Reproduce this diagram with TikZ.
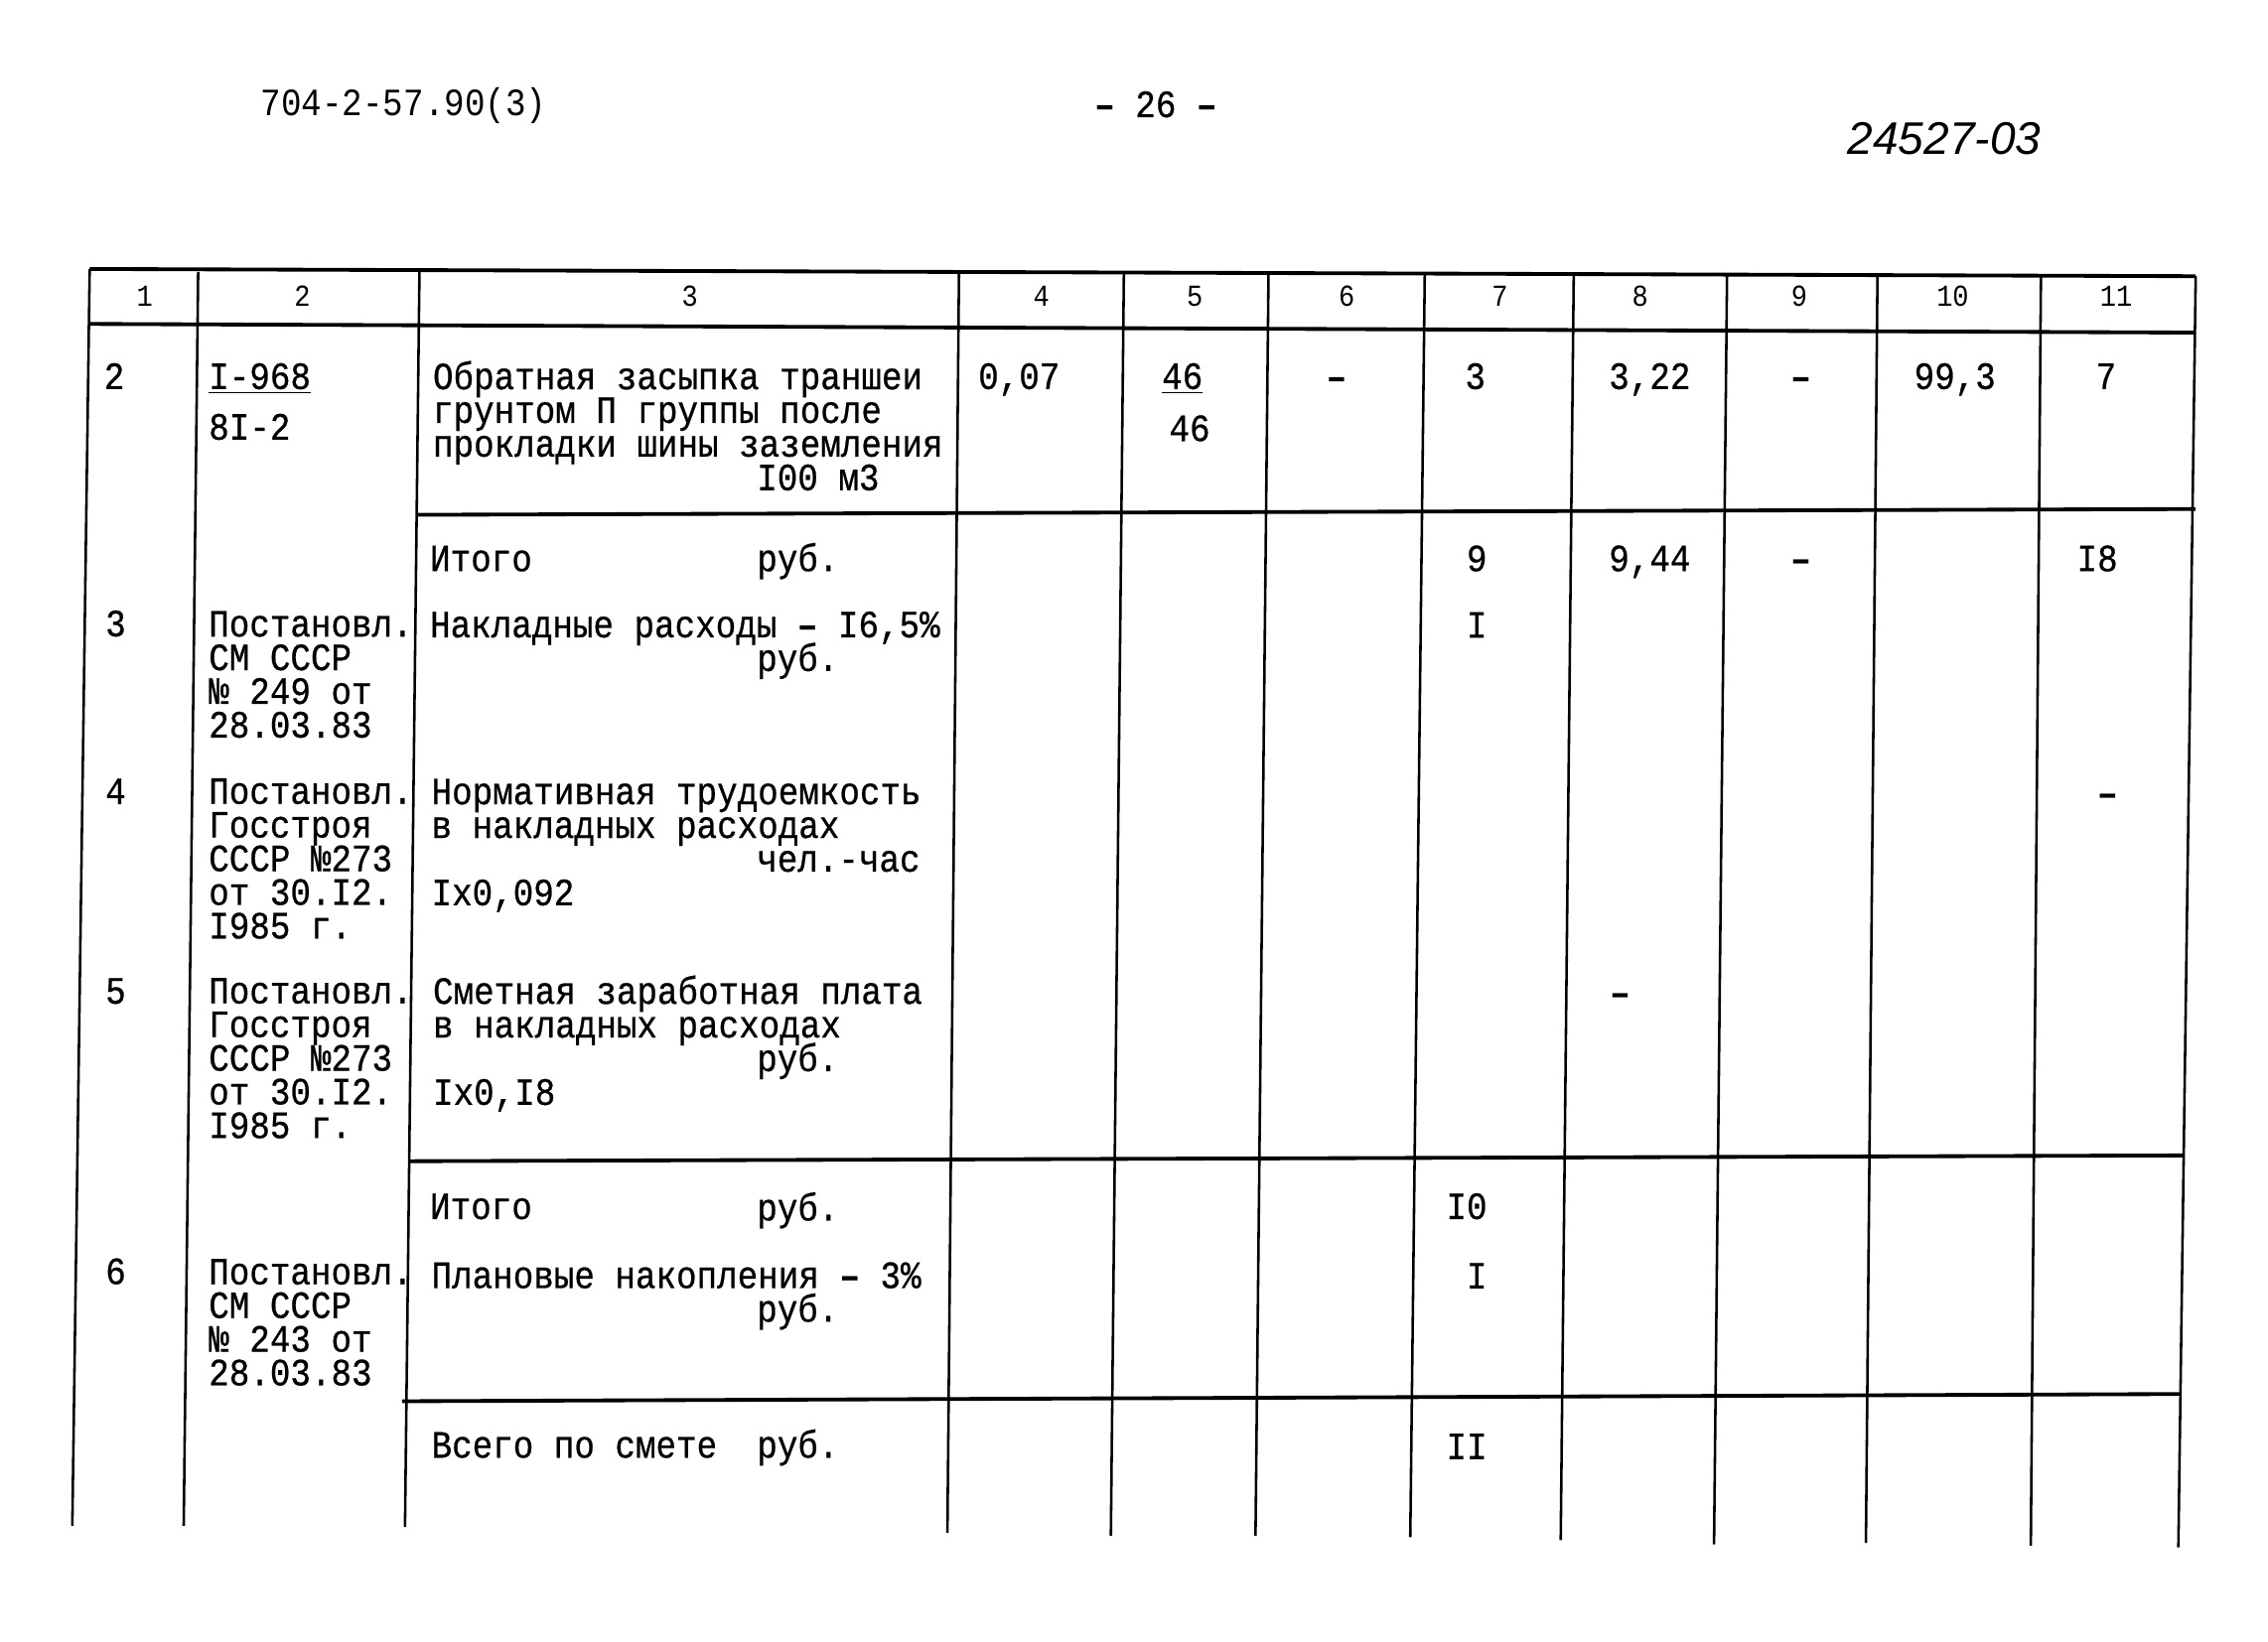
\documentclass[tikz,border=0pt]{standalone}
\usepackage{fontspec}
\newfontfamily\tw[FakeStretch=0.88,FakeBold=0.6]{Liberation Mono}
\newfontfamily\twl[FakeStretch=0.88]{Liberation Mono}
\newfontfamily\hw{Liberation Sans}
\newcommand\tightlines{\lineskiplimit=-30pt\relax\lineskip=0pt\relax}
\begin{document}
\begin{tikzpicture}[x=0.02cm,y=-0.02cm,
  t/.style={anchor=base west,inner sep=0pt,font=\tw\fontsize{15.2}{13.25}\selectfont\tightlines},
  blk/.style={t,align=left},
  tc/.style={t,anchor=base},
  dsh/.style={t,anchor=base,font=\tw\bfseries\fontsize{15.2}{15.2}\selectfont},
  hd/.style={anchor=base,inner sep=0pt,font=\twl\fontsize{12}{12}\selectfont},
  hln/.style={line width=1.5pt},
  vln/.style={line width=1.0pt}]
\useasboundingbox[fill=white] (0,0) rectangle (1568,1135);

% vertical lines
\foreach \i/\xa/\ya/\xb/\yb in {0/62/186/50/1055,1/137/188/127/1055,2/290/188/280/1056,
  3/663/189/655/1060,4/777/189/768/1062,5/877/189/868/1062,6/985/190/975/1063,
  7/1088/190/1079/1065,8/1194/190/1185/1068,9/1298/190/1290/1067,
  10/1411/191/1404/1069,11/1518/191/1506/1070}{
  \coordinate (vt\i) at (\xa,\ya);
  \coordinate (vb\i) at (\xb,\yb);
  \draw[vln] (vt\i) -- (vb\i);
}
% horizontal lines
\coordinate (h0a) at (62,186);  \coordinate (h0b) at (1518,191);
\coordinate (h1a) at (62,224);  \coordinate (h1b) at (1518,230);
\coordinate (h2a) at (289,356); \coordinate (h2b) at (1518,352);
\coordinate (h3a) at (283,803); \coordinate (h3b) at (1510,799);
\coordinate (h4a) at (278,969); \coordinate (h4b) at (1507,964);
\draw[hln] (h0a) -- (h0b);
\draw[hln] (h1a) -- (h1b);
\draw[hln] (h2a) -- (h2b);
\draw[hln] (h3a) -- (h3b);
\draw[hln] (h4a) -- (h4b);

% page head
\node[t,font=\twl\fontsize{15.2}{15.2}\selectfont] (doc) at (180,80) {704-2-57.90(3)};
\node[tc] (pg) at (799,81) {{\bfseries –} 26 {\bfseries –}};
\node[anchor=base west,inner sep=0pt,font=\hw\itshape\fontsize{18}{18}\selectfont] (inv) at (1277,107) {24527-03};

% column numbers
\foreach \n/\x in {1/100,2/209,3/477,4/720,5/826,6/931,7/1037,8/1134,9/1244,10/1350,11/1463}{
  \node[hd] (hn\n) at (\x,212) {\n};
}

% row 2 (multi-line nodes are anchored at the baseline of their last line)
\node[tc] (r2n) at (79,269) {2};
\node[t] (r2a) at (144,269) {\underline{I-968}};
\node[t] (r2b) at (144,304) {8I-2};
\node[blk] (r2c) at (299,339) {Обратная засыпка траншеи\\грунтом П группы после\\прокладки шины заземления\\\hspace*{4.48cm}I00 м3};
\node[t] (r2d) at (676,269) {0,07};
\node[t] (r2e1) at (803,269) {\underline{46}};
\node[t] (r2e2) at (808,305) {46};
\node[dsh] (r2f) at (924,269) {–};
\node[tc] (r2g) at (1020,269) {3};
\node[t] (r2h) at (1112,269) {3,22};
\node[dsh] (r2i) at (1245,269) {–};
\node[t] (r2j) at (1323,269) {99,3};
\node[tc] (r2k) at (1456,269) {7};

% itogo 1
\node[t] (i1a) at (297,395) {Итого};
\node[t] (i1b) at (523,395) {руб.};
\node[tc] (i1g) at (1021,395) {9};
\node[t] (i1h) at (1112,395) {9,44};
\node[dsh] (i1i) at (1245,395) {–};
\node[tc] (i1k) at (1450,395) {I8};

% row 3
\node[tc] (r3n) at (80,440) {3};
\node[blk] (r3a) at (144,510) {Постановл.\\СМ СССР\\№ 249 от\\28.03.83};
\node[blk] (r3c) at (297,464) {Накладные расходы {\bfseries –} I6,5\%\\\hspace*{4.52cm}руб.};
\node[tc] (r3g) at (1021,441) {I};

% row 4
\node[tc] (r4n) at (80,556) {4};
\node[blk] (r4a) at (144,649) {Постановл.\\Госстроя\\СССР №273\\от 30.I2.\\I985 г.};
\node[blk] (r4c) at (298,626) {Нормативная трудоемкость\\в накладных расходах\\\hspace*{4.5cm}чел.-час\\Ix0,092};
\node[dsh] (r4k) at (1457,557) {–};

% row 5
\node[tc] (r5n) at (80,694) {5};
\node[blk] (r5a) at (144,787) {Постановл.\\Госстроя\\СССР №273\\от 30.I2.\\I985 г.};
\node[blk] (r5c) at (299,764) {Сметная заработная плата\\в накладных расходах\\\hspace*{4.48cm}руб.\\Ix0,I8};
\node[dsh] (r5h) at (1120,695) {–};

% itogo 2
\node[t] (i2a) at (297,843) {Итого};
\node[t] (i2b) at (523,844) {руб.};
\node[tc] (i2g) at (1014,843) {I0};

% row 6
\node[tc] (r6n) at (80,888) {6};
\node[blk] (r6a) at (144,958) {Постановл.\\СМ СССР\\№ 243 от\\28.03.83};
\node[blk] (r6c) at (298,914) {Плановые накопления {\bfseries –} 3\%\\\hspace*{4.5cm}руб.};
\node[tc] (r6g) at (1021,891) {I};

% total
\node[t] (vsa) at (298,1008) {Всего по смете};
\node[t] (vsb) at (523,1008) {руб.};
\node[tc] (vsg) at (1014,1009) {II};
\end{tikzpicture}
\end{document}
